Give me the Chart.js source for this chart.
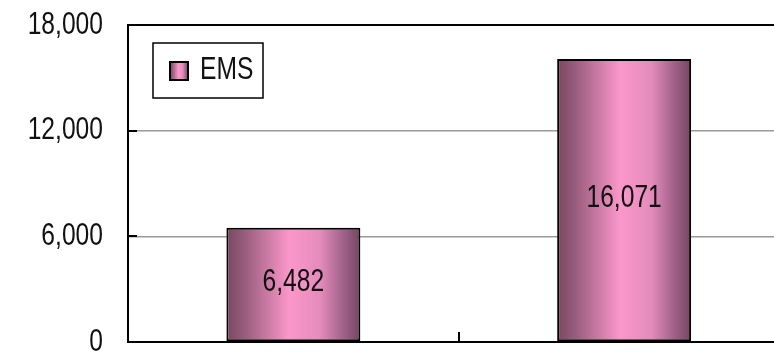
<!DOCTYPE html>
<html lang="en">
<head>
    <meta charset="UTF-8">
    <title>EMS</title>
    <style>
        html, body {
            margin: 0;
            padding: 0;
            background: #fff;
            overflow: hidden;
        }
        .chart-container {
            position: relative;
            width: 800px;
            height: 352px;
        }
    </style>
    <script src="https://cdn.jsdelivr.net/npm/chart.js"></script>
</head>
<body>

    <div class="chart-container">
        <canvas id="emsChart"></canvas>
    </div>

    <script>
        // Data
        const categories = ['A', 'B'];
        const emsValues = [6482, 16071];
        const yTicks = [0, 6000, 12000, 18000];
        const seriesName = 'EMS';

        const BAR_FRACTION = 0.405;
        const FONT = "32px 'Liberation Sans', Arial, sans-serif";
        const SQUEEZE = 0.77; // the original uses a narrow face

        function barGradient(ctx, x0, x1) {
            const g = ctx.createLinearGradient(x0, 0, x1, 0);
            g.addColorStop(0, '#784860');
            g.addColorStop(0.15, '#9c5f80');
            g.addColorStop(0.47, '#fb97ca');
            g.addColorStop(0.7, '#e48cbb');
            g.addColorStop(0.87, '#a2628a');
            g.addColorStop(1, '#744660');
            return g;
        }

        function narrowText(ctx, text, x, y, align) {
            ctx.save();
            ctx.translate(x, y);
            ctx.scale(SQUEEZE, 1);
            ctx.textAlign = align;
            ctx.textBaseline = 'middle';
            ctx.fillText(text, 0, 0);
            ctx.restore();
        }

        // Inward ticks, tick labels, value labels and the boxed legend
        const extrasPlugin = {
            id: 'extras',
            afterDatasetsDraw(chart) {
                const ctx = chart.ctx;
                const x = chart.scales.x;
                const y = chart.scales.y;
                ctx.save();
                ctx.strokeStyle = '#000';
                ctx.lineWidth = 2;
                yTicks.slice(1, -1).forEach(v => {
                    const py = Math.round(y.getPixelForValue(v));
                    ctx.beginPath();
                    ctx.moveTo(x.left, py);
                    ctx.lineTo(x.left + 9, py);
                    ctx.stroke();
                });
                for (let i = 0; i < categories.length - 1; i++) {
                    const px = Math.round(x.getPixelForValue(i + 0.5));
                    ctx.beginPath();
                    ctx.moveTo(px, y.bottom);
                    ctx.lineTo(px, y.bottom - 10);
                    ctx.stroke();
                }

                ctx.fillStyle = '#111';
                ctx.font = FONT;

                // y tick labels
                yTicks.forEach(v => {
                    narrowText(ctx, v.toLocaleString('en-US'), y.left + 103, y.getPixelForValue(v), 'right');
                });

                // value labels
                chart.getDatasetMeta(0).data.forEach((bar, i) => {
                    const mid = (bar.y + bar.base) / 2 - 2;
                    narrowText(ctx, emsValues[i].toLocaleString('en-US'), bar.x, mid, 'center');
                });

                // legend box
                const lx = 153, ly = 43, lw = 110, lh = 55;
                ctx.fillStyle = '#fff';
                ctx.fillRect(lx, ly, lw, lh);
                ctx.lineWidth = 1.5;
                ctx.strokeRect(lx, ly, lw, lh);
                ctx.fillStyle = barGradient(ctx, lx + 17, lx + 35);
                ctx.fillRect(lx + 17, ly + 19, 18, 18);
                ctx.lineWidth = 2;
                ctx.strokeRect(lx + 17, ly + 19, 18, 18);
                ctx.fillStyle = '#111';
                narrowText(ctx, chart.data.datasets[0].label, lx + 47, ly + 27, 'left');
                ctx.restore();
            }
        };

        const ctx = document.getElementById('emsChart').getContext('2d');
        new Chart(ctx, {
            type: 'bar',
            data: {
                labels: categories,
                datasets: [{
                    label: seriesName,
                    data: emsValues,
                    // cylinder-like shading, placed on each bar through the x scale
                    backgroundColor: c => {
                        const xs = c.chart.scales.x;
                        if (!xs || c.dataIndex === undefined) return '#f99acb';
                        const cx = xs.getPixelForValue(c.dataIndex);
                        const half = xs.width / categories.length * BAR_FRACTION / 2;
                        if (!isFinite(cx) || !isFinite(half) || half <= 0) return '#f99acb';
                        return barGradient(c.chart.ctx, cx - half, cx + half);
                    },
                    borderColor: '#000',
                    borderWidth: 2,
                    borderSkipped: false,
                    categoryPercentage: 1,
                    barPercentage: BAR_FRACTION
                }]
            },
            options: {
                responsive: true,
                maintainAspectRatio: false,
                animation: false,
                layout: {
                    padding: { top: 25, right: 10.5, bottom: 10, left: 0 }
                },
                plugins: {
                    legend: { display: false },
                    tooltip: { enabled: false }
                },
                scales: {
                    x: {
                        ticks: { display: false },
                        grid: { display: false, drawTicks: false },
                        border: { color: '#000', width: 2 },
                        afterFit(scale) { scale.height = 0; }
                    },
                    y: {
                        min: 0,
                        max: 18000,
                        afterBuildTicks(scale) {
                            scale.ticks = yTicks.map(v => ({ value: v }));
                        },
                        afterFit(scale) { scale.width = 128; },
                        ticks: { display: false },
                        grid: {
                            drawTicks: false,
                            color: c => c.tick && c.tick.value === 18000 ? '#000' : '#999',
                            lineWidth: c => c.tick && c.tick.value === 18000 ? 2 : 1.5
                        },
                        border: { color: '#000', width: 2 }
                    }
                }
            },
            plugins: [extrasPlugin]
        });
    </script>

</body>
</html>
